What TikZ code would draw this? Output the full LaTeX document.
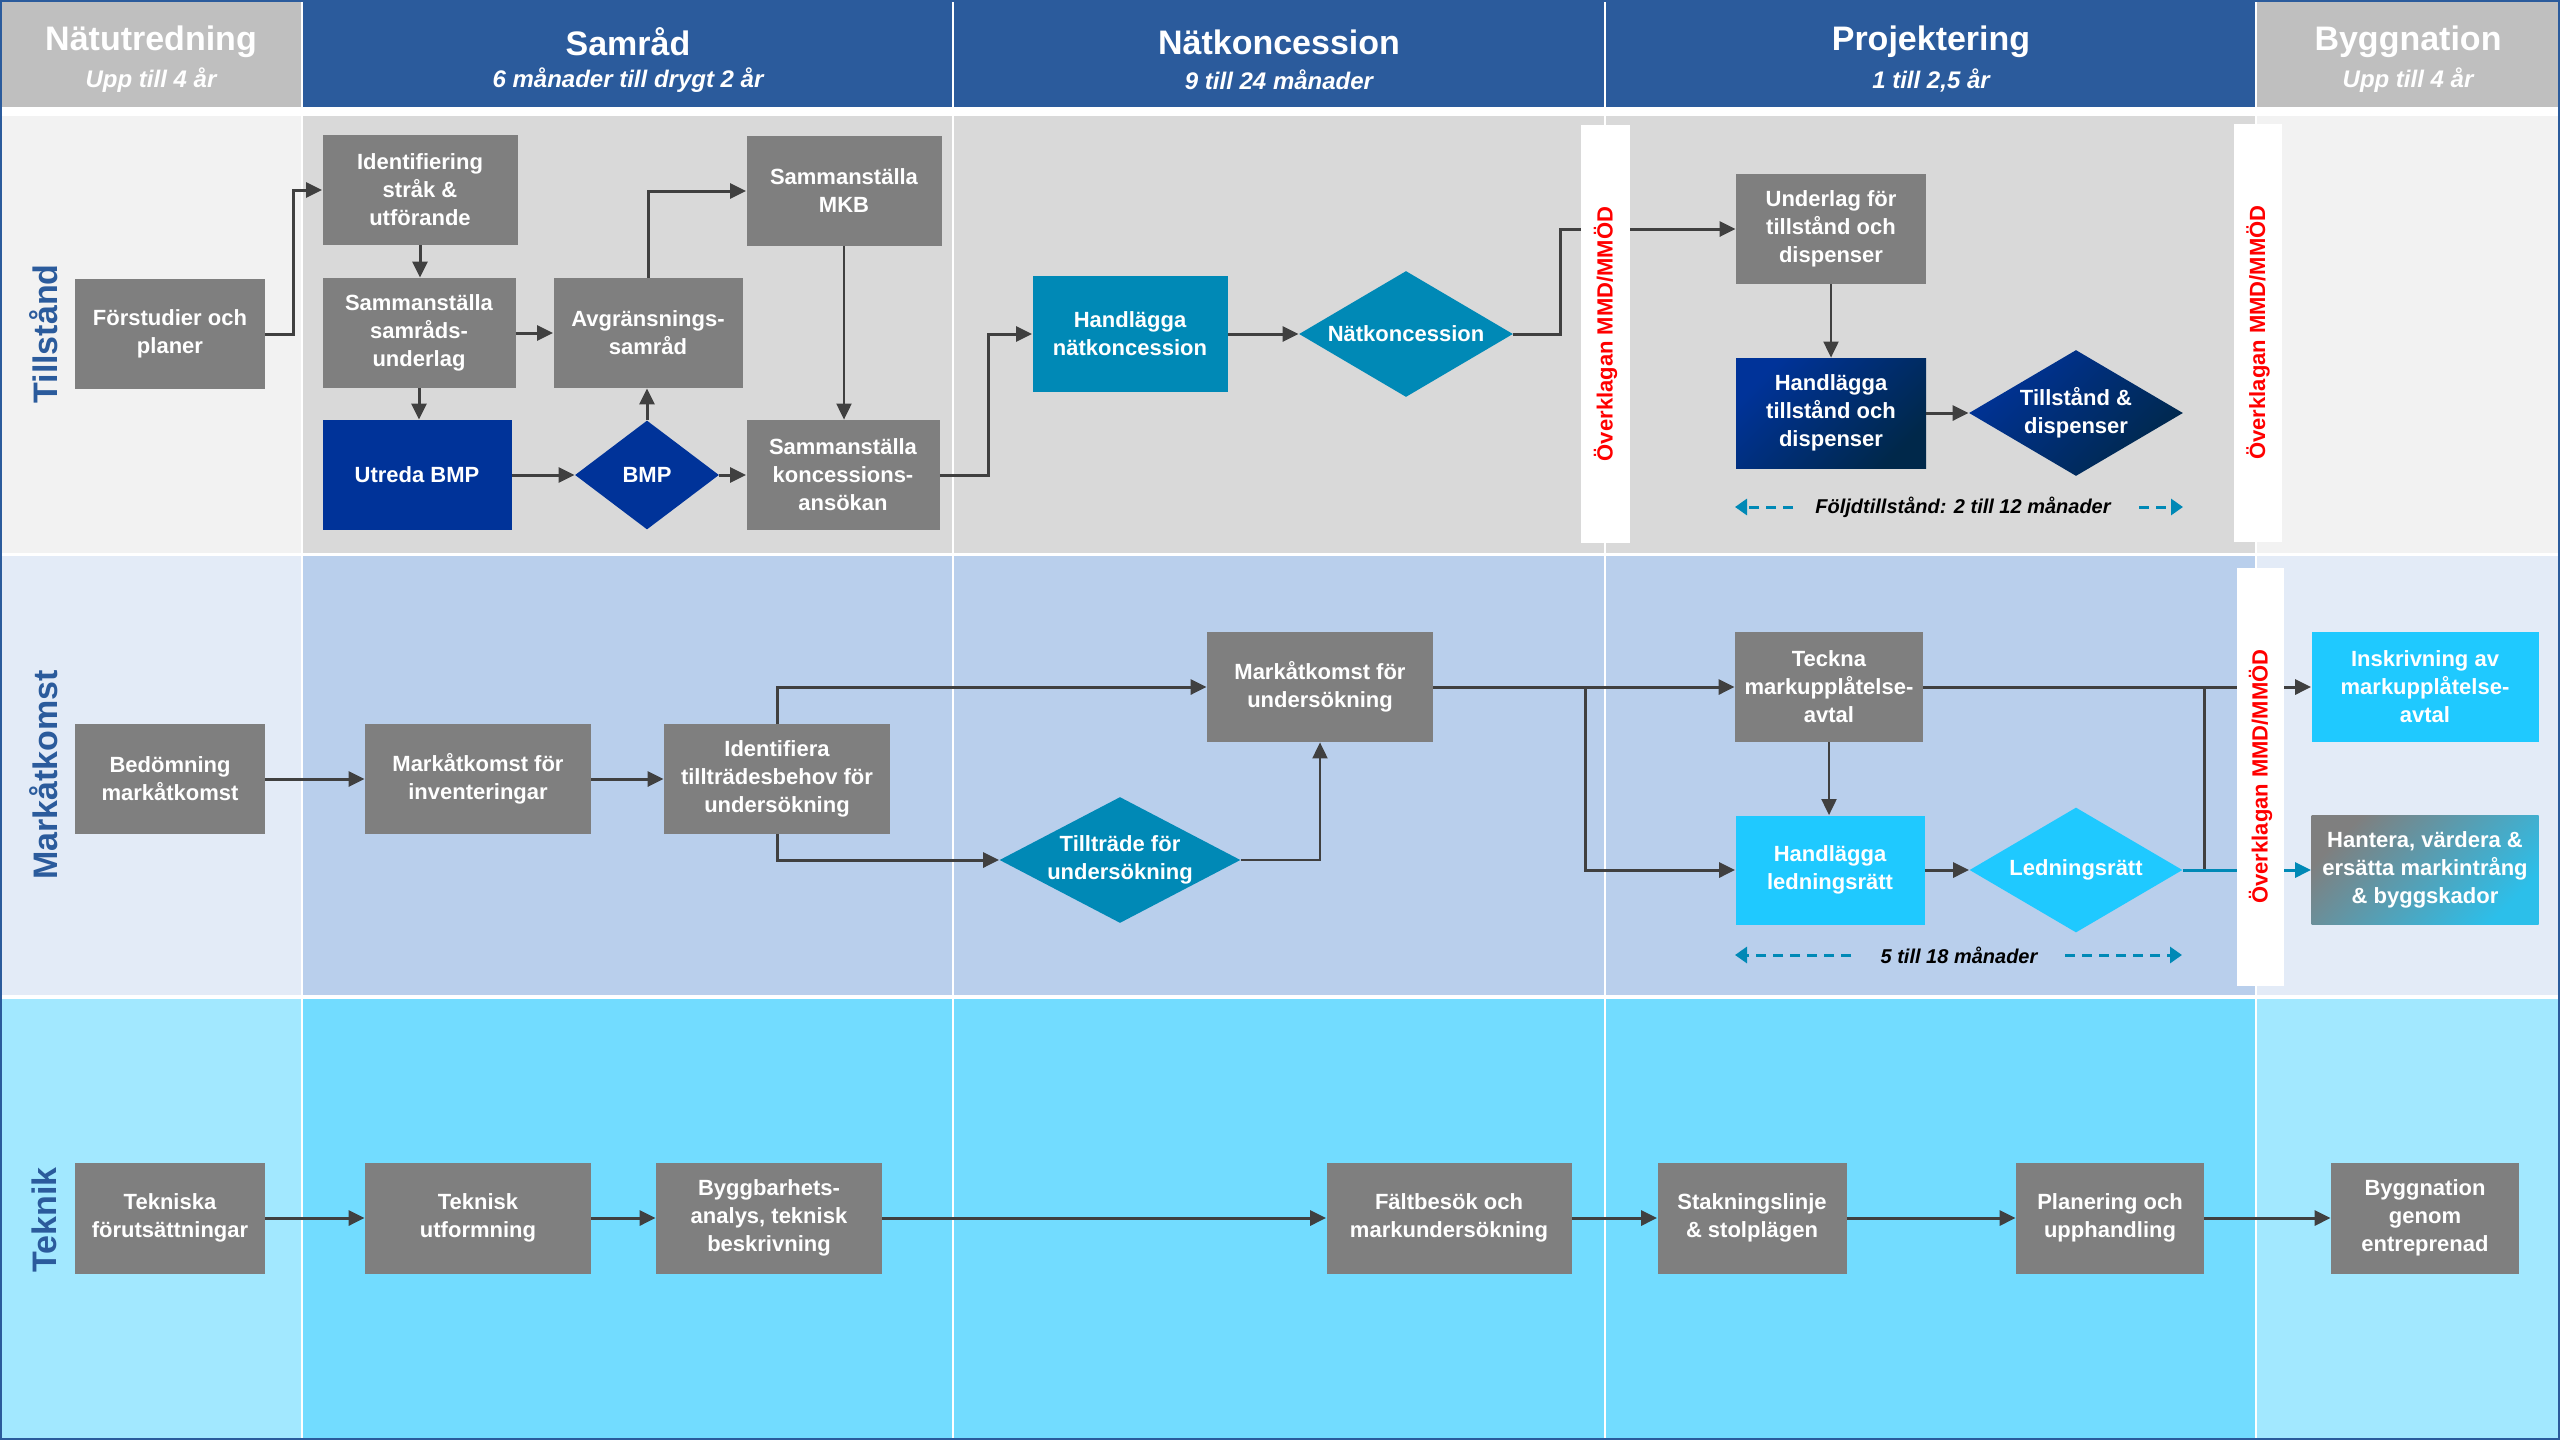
\documentclass[tikz,border=0pt]{standalone}
\usepackage{fontspec}
\setmainfont{Liberation Sans}
\usetikzlibrary{shapes.geometric,arrows.meta}
\definecolor{hdrblue}{HTML}{2B5B9C}
\definecolor{hdrgray}{HTML}{BFBFBF}
\definecolor{laneA}{HTML}{F2F2F2}
\definecolor{laneAi}{HTML}{D9D9D9}
\definecolor{laneB}{HTML}{E3EBF7}
\definecolor{laneBi}{HTML}{B9CFEC}
\definecolor{laneC}{HTML}{A2E8FF}
\definecolor{laneCi}{HTML}{72DCFF}
\definecolor{boxgray}{HTML}{7F7F7F}
\definecolor{dblue}{HTML}{003399}
\definecolor{dnavy}{HTML}{00284A}
\definecolor{tealc}{HTML}{0089B6}
\definecolor{cyanc}{HTML}{1FC9FF}
\definecolor{linec}{HTML}{404040}
\definecolor{hcyan}{HTML}{2CBFEA}
\definecolor{appealred}{HTML}{FF0000}
\pgfdeclarelayer{bg}
\pgfdeclarelayer{front}
\pgfsetlayers{bg,main,front}
\begin{document}
\begin{tikzpicture}[x=0.5pt,y=-0.5pt,
  boxtxt/.style={font=\bfseries\fontsize{11}{14}\selectfont, text=white, align=center},
  boxshape/.style={boxtxt, rectangle, inner sep=2pt, minimum height=55pt},
  pbox/.style={boxshape, fill=boxgray, minimum width=#1},
  pbox/.default=95pt,
  pdia/.style={boxtxt, diamond, inner sep=0pt},
  conn/.style={draw=linec, line width=1.5pt, -{Triangle[length=8pt,width=7.5pt]}},
  connthin/.style={draw=linec, line width=1pt, -{Triangle[length=8pt,width=7.5pt]}},
  connline/.style={draw=linec, line width=1.5pt},
  dur/.style={draw=tealc, line width=1.5pt, dash pattern=on 5pt off 3.5pt, -{Triangle[length=6pt,width=8pt]}},
  durtxt/.style={font=\bfseries\itshape\fontsize{10}{12}\selectfont, text=black},
  bar/.style={rotate=90, fill=white, minimum width=209pt, minimum height=24.5pt, inner sep=0pt, text=appealred, font=\bfseries\fontsize{11}{13}\selectfont},
  htitle/.style={font=\bfseries\fontsize{17}{20}\selectfont, text=white},
  hsub/.style={font=\bfseries\itshape\fontsize{12}{14}\selectfont, text=white},
  lanelbl/.style={rotate=90, font=\bfseries\fontsize{17}{20}\selectfont, text=hdrblue}
]
\useasboundingbox (0,0) rectangle (2560,1440);
\begin{pgfonlayer}{bg}
\fill[white] (0,0) rectangle (2560,1440);
\fill[hdrgray] (0,0) rectangle (301,107);
\fill[hdrblue] (303,0) rectangle (952,107);
\fill[hdrblue] (954,0) rectangle (1604,107);
\fill[hdrblue] (1606,0) rectangle (2255,107);
\fill[hdrgray] (2257,0) rectangle (2560,107);
\foreach \ya/\yb/\co/\ci in {116/553/laneA/laneAi, 556/995/laneB/laneBi, 999/1438/laneC/laneCi}{
  \fill[\co] (0,\ya) rectangle (301,\yb);
  \fill[\ci] (303,\ya) rectangle (952,\yb);
  \fill[\ci] (954,\ya) rectangle (1604,\yb);
  \fill[\ci] (1606,\ya) rectangle (2255,\yb);
  \fill[\co] (2257,\ya) rectangle (2560,\yb);
}
\draw[hdrblue, line width=1pt] (1,1) rectangle (2559,1439);
\end{pgfonlayer}

% header
\node[htitle] (h1) at (151,42) {Nätutredning};
\node[hsub] (s1) at (151,80) {Upp till 4 år};
\node[htitle] (h2) at (628,42) {Samråd};
\node[hsub] (s2) at (628,80) {6 månader till drygt 2 år};
\node[htitle] (h3) at (1279,42) {Nätkoncession};
\node[hsub] (s3) at (1279,80) {9 till 24 månader};
\node[htitle] (h4) at (1931,42) {Projektering};
\node[hsub] (s4) at (1931,80) {1 till 2,5 år};
\node[htitle] (h5) at (2408,42) {Byggnation};
\node[hsub] (s5) at (2408,80) {Upp till 4 år};

% lane labels
\node[lanelbl] (l1) at (44,334) {Tillstånd};
\node[lanelbl] (l2) at (44,775) {Markåtkomst};
\node[lanelbl] (l3) at (44,1220) {Teknik};

% Tillstånd lane
\node[pbox] (F) at (170,334) {Förstudier och\\planer};
\node[pbox=97.5pt] (I) at (420,190) {Identifiering\\stråk \&\\utförande};
\node[pbox=96.5pt] (S) at (419,333) {Sammanställa\\samråds-\\underlag};
\node[pbox=94.5pt] (A) at (648,333) {Avgränsnings-\\samråd};
\node[pbox=97.5pt] (MKB) at (844,191) {Sammanställa\\MKB};
\node[boxshape, fill=dblue, minimum width=94.5pt] (UB) at (417,475) {Utreda BMP};
\node[pdia, fill=dblue, aspect=1.32, minimum width=72pt, minimum height=54.5pt] (BMP) at (647,475) {BMP};
\node[pbox=96.5pt] (K) at (843,475) {Sammanställa\\koncessions-\\ansökan};
\node[boxshape, fill=tealc, minimum width=97.5pt, minimum height=58pt] (HN) at (1130,334) {Handlägga\\nätkoncession};
\node[pdia, fill=tealc, aspect=1.7, minimum width=107pt, minimum height=63pt] (NK) at (1406,334) {Nätkoncession};
\node[pbox] (U) at (1831,229) {Underlag för\\tillstånd och\\dispenser};
\node[boxshape, minimum width=95pt, left color=dblue, middle color=dblue, right color=dnavy, shading angle=45] (HT) at (1831,413) {Handlägga\\tillstånd och\\dispenser};
\node[pdia, aspect=1.7, minimum width=107pt, minimum height=63pt, left color=dblue, middle color=dblue, right color=dnavy, shading angle=45] (TD) at (2076,413) {Tillstånd \&\\dispenser};

% Markåtkomst lane
\node[pbox] (BM) at (170,779) {Bedömning\\markåtkomst};
\node[pbox=113pt] (MI) at (478,779) {Markåtkomst för\\inventeringar};
\node[pbox=113pt] (ID) at (777,779) {Identifiera\\tillträdesbehov för\\undersökning};
\node[pbox=113pt] (MU) at (1320,687) {Markåtkomst för\\undersökning};
\node[pdia, fill=tealc, aspect=1.91, inner sep=-3pt, minimum width=120.5pt, minimum height=63pt] (TT) at (1120,860) {Tillträde för\\undersökning};
\node[pbox=94pt] (TK) at (1829,687) {Teckna\\markupplåtelse-\\avtal};
\node[boxshape, fill=cyanc, minimum width=94.5pt, minimum height=54.5pt] (HL) at (1830,870) {Handlägga\\ledningsrätt};
\node[pdia, fill=cyanc, aspect=1.7, minimum width=106.5pt, minimum height=62.5pt] (LR) at (2076,870) {Ledningsrätt};
\node[boxshape, fill=cyanc, minimum width=113.5pt] (IN) at (2425,687) {Inskrivning av\\markupplåtelse-\\avtal};
\node[boxshape, minimum width=113.5pt, minimum height=54.5pt, left color=boxgray, middle color=boxgray!75!hcyan, right color=hcyan, shading angle=45] (HA) at (2425,870) {Hantera, värdera \&\\ersätta markintrång\\\& byggskador};

% Teknik lane
\node[pbox, minimum height=55.5pt] (T1) at (170,1218) {Tekniska\\förutsättningar};
\node[pbox=113pt, minimum height=55.5pt] (T2) at (478,1218) {Teknisk\\utformning};
\node[pbox=113pt, minimum height=55.5pt] (T3) at (769,1218) {Byggbarhets-\\analys, teknisk\\beskrivning};
\node[pbox=122.5pt, minimum height=55.5pt] (T4) at (1449,1218) {Fältbesök och\\markundersökning};
\node[pbox=94.5pt, minimum height=55.5pt] (T5) at (1752,1218) {Stakningslinje\\\& stolplägen};
\node[pbox=94pt, minimum height=55.5pt] (T6) at (2110,1218) {Planering och\\upphandling};
\node[pbox=94pt, minimum height=55.5pt] (T7) at (2425,1218) {Byggnation\\genom\\entreprenad};

% duration rows
\coordinate (fa1) at (1793,507);
\coordinate (fa2) at (1735,507);
\draw[dur] (fa1) -- (fa2);
\node[durtxt] (foljd) at (1963,507) {Följdtillstånd: 2 till 12 månader};
\coordinate (fb1) at (2139,507);
\coordinate (fb2) at (2183,507);
\draw[dur] (fb1) -- (fb2);
\coordinate (ga1) at (1851,955);
\coordinate (ga2) at (1735,955);
\draw[dur] (ga1) -- (ga2);
\node[durtxt] (mon) at (1959,955) {5 till 18 månader};
\coordinate (gb1) at (2065,955);
\coordinate (gb2) at (2182,955);
\draw[dur] (gb1) -- (gb2);

% connectors Tillstånd
\draw[conn] (F.east) -- ++(28,0) |- (I.west);
\draw[conn] (I.south) -- (I.south |- S.north);
\draw[conn] (S.east) -- (A.west);
\draw[conn] (S.south) -- (S.south |- UB.north);
\draw[conn] (UB.east) -- (BMP.west);
\draw[conn] (BMP.north) -- (BMP.north |- A.south);
\draw[conn] (A.north) |- (MKB.west);
\draw[connthin] (MKB.south) -- (MKB.south |- K.north);
\draw[conn] (BMP.east) -- (K.west);
\draw[conn] (K.east) -- ++(49,0) |- (HN.west);
\draw[conn] (HN.east) -- (NK.west);
\draw[conn] (NK.east) -- ++(47,0) |- (U.west);
\draw[connthin] (U.south) -- (HT.north);
\draw[conn] (HT.east) -- (TD.west);

% connectors Markåtkomst
\draw[conn] (BM.east) -- (MI.west);
\draw[conn] (MI.east) -- (ID.west);
\draw[conn] (ID.north) |- (MU.west);
\draw[conn] (ID.south) |- (TT.west);
\draw[connthin] (TT.east) -| (MU.south);
\draw[conn] (MU.east) -- (TK.west);
\draw[conn] (MU.east) -- ++(152,0) |- (HL.west);
\draw[connthin] (TK.south) -- (TK.south |- HL.north);
\draw[conn] (HL.east) -- (LR.west);
\draw[conn] (TK.east) -- (IN.west);
\draw[connline] (TK.east) -- ++(281,0) -- ++(0,183);
\draw[conn, draw=tealc] (LR.east) -- (HA.west);

% connectors Teknik
\draw[conn] (T1.east) -- (T2.west);
\draw[conn] (T2.east) -- (T3.west);
\draw[conn] (T3.east) -- (T4.west);
\draw[conn] (T4.east) -- (T5.west);
\draw[conn] (T5.east) -- (T6.west);
\draw[conn] (T6.east) -- (T7.west);

% appeal bars
\begin{pgfonlayer}{front}
\node[bar] (ov1) at (1605.5,334) {Överklagan MMD/MMÖD};
\node[bar, minimum height=24pt] (ov2) at (2258,332.5) {Överklagan MMD/MMÖD};
\node[bar, minimum height=23.5pt] (ov3) at (2260.5,776.5) {Överklagan MMD/MMÖD};
\end{pgfonlayer}
\end{tikzpicture}
\end{document}
